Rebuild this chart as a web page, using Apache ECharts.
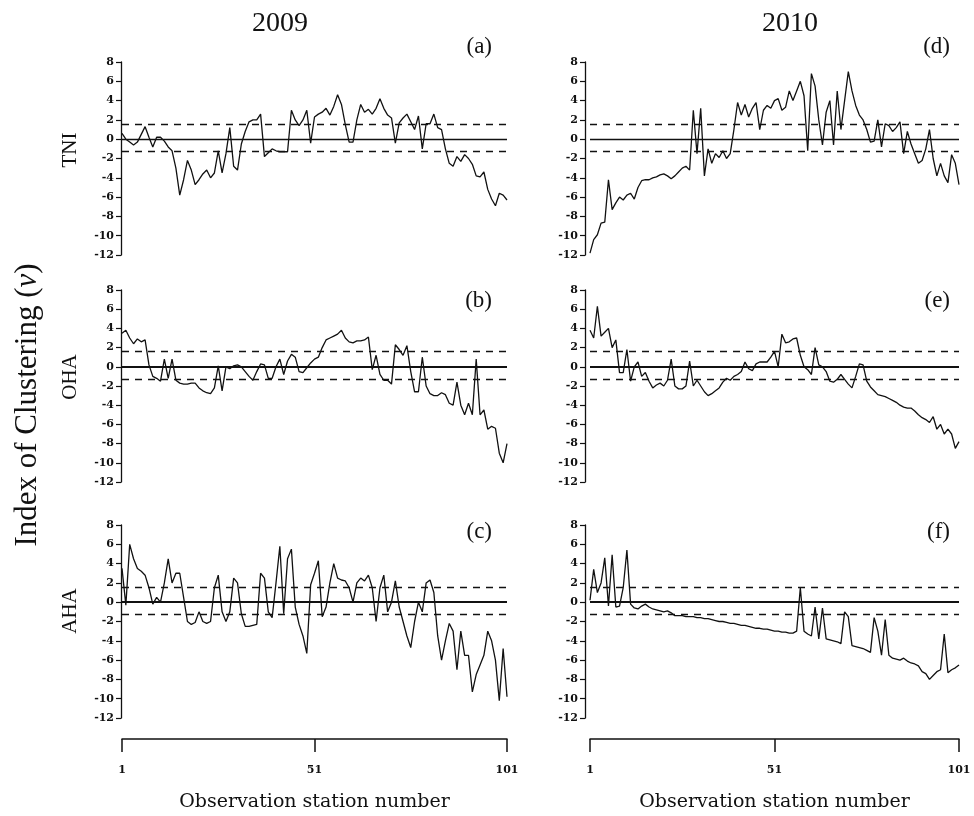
<!DOCTYPE html>
<html><head><meta charset="utf-8">
<script src="https://cdn.jsdelivr.net/npm/echarts@6/dist/echarts.min.js"></script>
<style>html,body{margin:0;padding:0;background:#fff}#c{width:974px;height:816px}</style>
</head><body><div id="c"></div>
<script>
// ---- data ----
const stationTicks = [1, 51, 101];
const yMin = -12, yMax = 8, yStep = 2;
const upperThreshold = 1.6;
const lowerThreshold = -1.3;
const yearTitles = ['2009', '2010'];
const rowNames = ['TNI', 'OHA', 'AHA'];
const panelTags = ['(a)', '(b)', '(c)', '(d)', '(e)', '(f)'];

const tni2009 = [0.6,0.0,-0.3,-0.6,-0.3,0.5,1.3,0.2,-0.8,0.2,
 0.2,-0.2,-0.8,-1.2,-3.0,-5.8,-4.2,-2.2,-3.2,-4.7,
 -4.2,-3.6,-3.2,-4.0,-3.5,-1.2,-3.5,-1.5,1.2,-2.8,
 -3.2,-0.5,0.8,1.8,2.0,2.0,2.6,-1.8,-1.4,-1.0,
 -1.2,-1.3,-1.3,-1.3,3.0,2.0,1.4,2.0,3.0,-0.4,
 2.3,2.6,2.8,3.2,2.5,3.4,4.6,3.6,1.5,-0.3,
 -0.3,2.0,3.6,2.8,3.1,2.6,3.2,4.2,3.2,2.5,
 2.2,-0.4,1.7,2.2,2.6,1.8,1.0,2.4,-1.0,1.6,
 1.6,2.6,1.2,1.0,-1.0,-2.5,-2.8,-1.8,-2.3,-1.6,
 -2.0,-2.6,-3.8,-3.9,-3.4,-5.2,-6.2,-6.9,-5.6,-5.8,
 -6.3];
const oha2009 = [3.5,3.8,3.0,2.4,2.9,2.6,2.8,0.2,-1.0,-1.2,
 -1.5,0.8,-1.2,0.8,-1.4,-1.7,-1.8,-1.8,-1.7,-1.7,
 -2.2,-2.5,-2.7,-2.8,-2.2,0.1,-2.5,0.0,-0.2,0.1,
 0.2,0.0,-0.5,-1.0,-1.4,-0.5,0.3,0.2,-1.2,-1.2,
 0.0,0.8,-0.8,0.6,1.3,1.0,-0.5,-0.6,-0.1,0.4,
 0.8,1.0,2.0,2.8,3.0,3.2,3.4,3.8,3.0,2.6,
 2.5,2.7,2.7,2.8,3.1,-0.3,1.2,-0.8,-1.4,-1.4,
 -1.8,2.3,1.8,1.2,2.2,-0.5,-2.6,-2.6,1.0,-2.0,
 -2.8,-3.0,-3.0,-2.7,-2.9,-3.8,-4.0,-1.6,-4.0,-5.0,
 -3.8,-5.0,0.8,-5.0,-4.5,-6.5,-6.2,-6.4,-9.0,-10.0,
 -8.0];
const aha2009 = [3.5,-0.3,6.0,4.5,3.5,3.2,2.8,1.5,-0.2,0.5,
 0.0,2.0,4.5,2.0,3.0,3.0,0.5,-2.0,-2.3,-2.1,
 -1.0,-2.0,-2.2,-2.0,1.5,2.8,-1.0,-2.0,-1.0,2.5,
 2.0,-1.2,-2.5,-2.5,-2.4,-2.3,3.0,2.5,-1.0,-1.6,
 2.0,5.8,-1.2,4.5,5.5,-0.5,-2.3,-3.5,-5.3,1.8,
 3.0,4.3,-1.5,-0.5,2.0,4.0,2.5,2.3,2.2,1.5,
 0.0,2.0,2.5,2.2,2.8,1.5,-2.0,1.5,2.8,-1.0,
 0.0,2.2,-0.5,-2.0,-3.5,-4.7,-2.0,0.0,-1.0,2.0,
 2.3,1.0,-3.5,-6.0,-4.0,-2.2,-3.0,-7.0,-3.0,-5.5,
 -5.5,-9.3,-7.5,-6.5,-5.5,-3.0,-4.0,-6.0,-10.2,-4.8,
 -9.8];
const tni2010 = [-11.8,-10.4,-9.9,-8.7,-8.6,-4.2,-7.3,-6.6,-6.0,-6.3,
 -5.8,-5.6,-6.2,-5.0,-4.3,-4.2,-4.2,-4.0,-3.9,-3.7,
 -3.6,-3.8,-4.1,-3.8,-3.4,-3.0,-2.8,-3.2,3.0,-1.5,
 3.2,-3.8,-1.0,-2.5,-1.5,-1.9,-1.2,-2.0,-1.5,1.0,
 3.8,2.5,3.6,2.3,3.2,3.8,1.0,3.0,3.5,3.2,
 4.0,4.2,3.0,3.3,5.0,4.0,5.0,6.0,4.5,-1.2,
 6.8,5.5,2.0,-0.6,2.8,4.0,-0.6,5.0,1.0,4.0,
 7.0,5.0,3.5,2.5,2.0,1.0,-0.3,-0.2,2.0,-0.8,
 1.6,1.4,0.8,1.2,1.8,-1.5,0.8,-0.5,-1.5,-2.5,
 -2.2,-1.0,1.0,-2.0,-3.8,-2.5,-3.8,-4.5,-1.6,-2.5,
 -4.7];
const oha2010 = [3.8,3.0,6.3,3.2,3.6,4.0,2.0,2.8,-0.6,-0.6,
 1.8,-1.5,0.0,0.5,-1.0,-0.6,-1.5,-2.2,-1.9,-1.7,
 -2.0,-1.4,0.8,-2.0,-2.3,-2.3,-2.0,0.6,-2.0,-1.4,
 -2.0,-2.6,-3.0,-2.8,-2.5,-2.2,-1.6,-1.2,-1.4,-1.0,
 -0.8,-0.5,0.5,-0.2,-0.4,0.3,0.5,0.5,0.5,1.0,
 1.6,0.0,3.4,2.5,2.6,2.9,3.0,1.2,0.0,-0.3,
 -0.8,2.0,0.2,0.0,-0.5,-1.5,-1.6,-1.3,-0.8,-1.3,
 -1.8,-2.2,-1.0,0.3,0.2,-1.5,-2.1,-2.5,-2.9,-3.0,
 -3.1,-3.3,-3.5,-3.7,-4.0,-4.2,-4.3,-4.3,-4.6,-5.0,
 -5.3,-5.5,-5.8,-5.2,-6.5,-6.0,-7.0,-6.5,-7.0,-8.5,
 -7.8];
const aha2010 = [0.2,3.4,1.0,2.0,4.6,-0.4,4.9,-0.5,-0.4,1.5,
 5.4,-0.2,-0.6,-0.7,-0.4,-0.2,-0.5,-0.7,-0.8,-0.9,
 -1.0,-0.9,-1.1,-1.4,-1.4,-1.4,-1.5,-1.5,-1.5,-1.6,
 -1.6,-1.7,-1.7,-1.8,-1.9,-2.0,-2.0,-2.1,-2.2,-2.2,
 -2.3,-2.4,-2.4,-2.5,-2.6,-2.7,-2.7,-2.8,-2.8,-2.9,
 -3.0,-3.0,-3.1,-3.1,-3.2,-3.2,-3.0,1.5,-3.0,-3.3,
 -3.5,-0.5,-3.8,-0.6,-3.8,-3.9,-4.0,-4.1,-4.3,-1.0,
 -1.5,-4.5,-4.6,-4.7,-4.8,-5.0,-5.2,-1.6,-3.0,-5.5,
 -1.8,-5.5,-5.8,-5.9,-6.0,-5.8,-6.1,-6.3,-6.4,-6.6,
 -7.2,-7.4,-8.0,-7.6,-7.2,-7.0,-3.3,-7.3,-7.0,-6.8,
 -6.5];

const seriesByPanel = [tni2009, oha2009, aha2009, tni2010, oha2010, aha2010];

// ---- layout ----
const colLeft = [122, 590], colWidth = [385, 369];
const rowTop = [62, 290, 525], rowHeight = [193, 192, 193];
const axisOffset = [1, 5];
const zeroWidth = [1.4, 2, 2];
const bottomAxisY = 739;
const serif = 'Liberation Serif';
const tickFont = 'DejaVu Serif';

const grids = [], xAxes = [], yAxes = [], series = [], graphics = [];

seriesByPanel.forEach((vals, p) => {
  const col = Math.floor(p / 3), row = p % 3;
  grids.push({left: colLeft[col], width: colWidth[col], top: rowTop[row], height: rowHeight[row]});
  xAxes.push({gridIndex: p, type: 'value', min: stationTicks[0], max: stationTicks[2], show: false});
  yAxes.push({
    gridIndex: p, type: 'value', min: yMin, max: yMax, interval: yStep,
    offset: axisOffset[col],
    splitLine: {show: false},
    axisLine: {show: true, lineStyle: {color: '#111', width: 1.3}},
    axisTick: {show: true, length: 5, lineStyle: {color: '#111', width: 1.2}},
    axisLabel: {color: '#111', fontFamily: tickFont, fontWeight: 'bold', fontSize: 11, margin: 7}
  });
  series.push({
    type: 'line', xAxisIndex: p, yAxisIndex: p,
    data: vals.map((v, i) => [i + 1, v]),
    symbol: 'none', animation: false, silent: true,
    lineStyle: {color: '#111', width: 1.3},
    markLine: {
      silent: true, symbol: 'none', animation: false, label: {show: false},
      data: [
        {yAxis: 0, lineStyle: {color: '#111', width: zeroWidth[row], type: 'solid'}},
        {yAxis: upperThreshold, lineStyle: {color: '#111', width: 1.3, type: [7, 6]}},
        {yAxis: lowerThreshold, lineStyle: {color: '#111', width: 1.3, type: [7, 6]}}
      ]
    }
  });
});

// bottom station axes
[0, 1].forEach(col => {
  const gi = grids.length;
  grids.push({left: colLeft[col], width: colWidth[col], top: bottomAxisY - 1, height: 1});
  xAxes.push({
    gridIndex: gi, type: 'value', min: stationTicks[0], max: stationTicks[2], position: 'bottom',
    splitLine: {show: false},
    axisLine: {show: true, lineStyle: {color: '#111', width: 1.5}},
    axisTick: {show: true, length: 13, customValues: stationTicks, lineStyle: {color: '#111', width: 1.5}},
    axisLabel: {customValues: stationTicks, color: '#111', fontFamily: tickFont, fontWeight: 'bold', fontSize: 11, margin: 26},
    name: 'Observation station number', nameLocation: 'middle', nameGap: 54,
    nameTextStyle: {color: '#111', fontFamily: tickFont, fontSize: 19}
  });
  yAxes.push({gridIndex: gi, type: 'value', show: false});
});

// titles and labels
const titleX = [280, 790];
yearTitles.forEach((t, c) => graphics.push({type: 'text', x: titleX[c], y: 24,
  style: {text: t, fill: '#111', font: '28px "Liberation Serif"', align: 'center', verticalAlign: 'middle'}}));
const tagRight = [492, 950], tagY = [47, 301, 532];
panelTags.forEach((t, p) => {
  const col = Math.floor(p / 3), row = p % 3;
  graphics.push({type: 'text', x: tagRight[col], y: tagY[row],
    style: {text: t, fill: '#111', font: '23px "Liberation Serif"', align: 'right', verticalAlign: 'middle'}});
});
const rowLabelY = [150, 377, 611];
rowNames.forEach((t, r) => graphics.push({type: 'text', x: 70, y: rowLabelY[r], rotation: Math.PI / 2,
  style: {text: t, fill: '#111', font: '21px "Liberation Serif"', align: 'center', verticalAlign: 'middle'}}));
graphics.push({type: 'text', x: 28, y: 405, rotation: Math.PI / 2,
  style: {text: '{a|Index of Clustering (}{b|v}{a|)}', align: 'center', verticalAlign: 'middle',
    rich: {a: {fontFamily: serif, fontSize: 31, fill: '#111', color: '#111'},
           b: {fontFamily: serif, fontSize: 31, fontStyle: 'italic', fill: '#111', color: '#111'}}}});

const chart = echarts.init(document.getElementById('c'), null, {renderer: 'canvas'});
chart.setOption({
  backgroundColor: '#fff', animation: false,
  grid: grids, xAxis: xAxes, yAxis: yAxes, series: series, graphic: graphics
});
</script>
</body></html>
